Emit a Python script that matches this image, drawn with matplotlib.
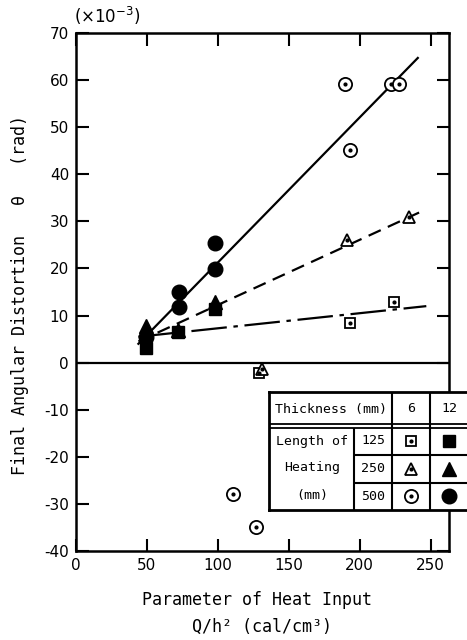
import matplotlib
matplotlib.use('Agg')
import matplotlib.pyplot as plt

plt.rcParams['axes.unicode_minus'] = False

# thickness 6 mm (open symbols), length of heating 125 / 250 / 500 mm
x6_125 = [129, 193, 224]
y6_125 = [-2.2, 8.5, 12.8]
x6_250 = [131, 191, 235]
y6_250 = [-1.3, 26.0, 31.0]
x6_500 = [111, 127, 190, 193, 222, 228]
y6_500 = [-27.8, -35.0, 59.2, 45.2, 59.2, 59.2]

# thickness 12 mm (filled symbols)
x12_125 = [49.4, 72, 98]
y12_125 = [3.2, 6.6, 11.3]
x12_250 = [49.4, 72, 98]
y12_250 = [7.7, 7.0, 12.8]
x12_500 = [49.5, 72.5, 72.5, 98, 98]
y12_500 = [5.5, 11.8, 15.0, 19.8, 25.5]

# fitted lines (start, end)
fit_500_x = [44, 241]
fit_500_y = [4.0, 64.7]
fit_250_x = [44, 245]
fit_250_y = [4.5, 32.3]
fit_125_x = [44, 247]
fit_125_y = [5.5, 12.0]

xticks = [0, 50, 100, 150, 200, 250]
yticks = [-40, -30, -20, -10, 0, 10, 20, 30, 40, 50, 60, 70]

mono = 'DejaVu Sans Mono'
W, H = 467, 640

fig = plt.figure(figsize=(W / 100, H / 100), dpi=100)
ax = fig.add_axes([76 / W, (H - 551) / H, (449 - 76) / W, (551 - 33) / H])

lw = 1.6
ax.plot(fit_500_x, fit_500_y, color='black', lw=lw, zorder=2)
ax.plot(fit_250_x, fit_250_y, color='black', lw=lw, dashes=(6, 3.5), zorder=2)
ax.plot(fit_125_x, fit_125_y, color='black', lw=lw, dashes=(16, 3, 2, 3), zorder=2)
ax.axhline(0, color='black', lw=1.6, zorder=1)


def open_marker(axis, x, y, m, ms):
    axis.plot(x, y, ls='none', marker=m, ms=ms, mfc='white', mec='black',
              mew=1.3, zorder=3)
    axis.plot(x, y, ls='none', marker='o', ms=2.0, color='black', zorder=4)


def filled_marker(axis, x, y, m, ms):
    axis.plot(x, y, ls='none', marker=m, ms=ms, color='black', zorder=3)


open_marker(ax, x6_125, y6_125, 's', 7.5)
open_marker(ax, x6_250, y6_250, '^', 9)
open_marker(ax, x6_500, y6_500, 'o', 9.5)
filled_marker(ax, x12_125, y12_125, 's', 8.5)
filled_marker(ax, x12_250, y12_250, '^', 10)
filled_marker(ax, x12_500, y12_500, 'o', 10.5)

ax.set_xlim(0, 263)
ax.set_ylim(-40, 70)
ax.set_xticks(xticks)
ax.set_yticks(yticks)
ax.tick_params(direction='in', length=9, width=1.5, top=True, right=True,
               labelsize=11, pad=5)
for s in ax.spines.values():
    s.set_linewidth(1.8)

fig.text(74 / W, (H - 16) / H, r'$(\times10^{-3})$', ha='left', va='center',
         fontsize=12)
fig.text(20 / W, (H - 295) / H, 'Final Angular Distortion   θ   (rad)',
         rotation=90, ha='center', va='center', fontsize=12, family=mono)
fig.text(257 / W, (H - 600) / H, 'Parameter of Heat Input', ha='center',
         va='center', fontsize=12, family=mono)
fig.text(262 / W, (H - 627) / H, 'Q/h² (cal/cm³)', ha='center',
         va='center', fontsize=12, family=mono)

# legend table
L, R, T, B = 269, 471, 392, 510
tbl = fig.add_axes([L / W, (H - B) / H, (R - L) / W, (B - T) / H])
tbl.set_xlim(L, R)
tbl.set_ylim(B, T)
tbl.set_facecolor('white')
tbl.set_xticks([])
tbl.set_yticks([])
for s in tbl.spines.values():
    s.set_linewidth(2)
tbl.hlines([424, 427.5], L, R, color='black', lw=1.3)
tbl.hlines([455, 483], 354, R, color='black', lw=1.5)
tbl.vlines(354, 427.5, B, color='black', lw=1.5)
tbl.vlines([392, 430], T, B, color='black', lw=1.5)

tfs = 9.5
tbl.text(331, 409, 'Thickness (mm)', ha='center', va='center', fontsize=tfs, family=mono)
tbl.text(411, 409, '6', ha='center', va='center', fontsize=tfs, family=mono)
tbl.text(449, 409, '12', ha='center', va='center', fontsize=tfs, family=mono)
tbl.text(312, 442, 'Length of', ha='center', va='center', fontsize=tfs, family=mono)
tbl.text(312, 468, 'Heating', ha='center', va='center', fontsize=tfs, family=mono)
tbl.text(312, 495, '(mm)', ha='center', va='center', fontsize=tfs, family=mono)
row_y = [441, 469, 496]
for yy, lab in zip(row_y, ['125', '250', '500']):
    tbl.text(373, yy, lab, ha='center', va='center', fontsize=tfs, family=mono)
for yy, m, ms_o, ms_f in zip(row_y, ['s', '^', 'o'], [7.5, 9, 9.5], [8.5, 10, 10.5]):
    open_marker(tbl, [411], [yy], m, ms_o)
    filled_marker(tbl, [449], [yy], m, ms_f)

fig.savefig('out.png', dpi=100)
